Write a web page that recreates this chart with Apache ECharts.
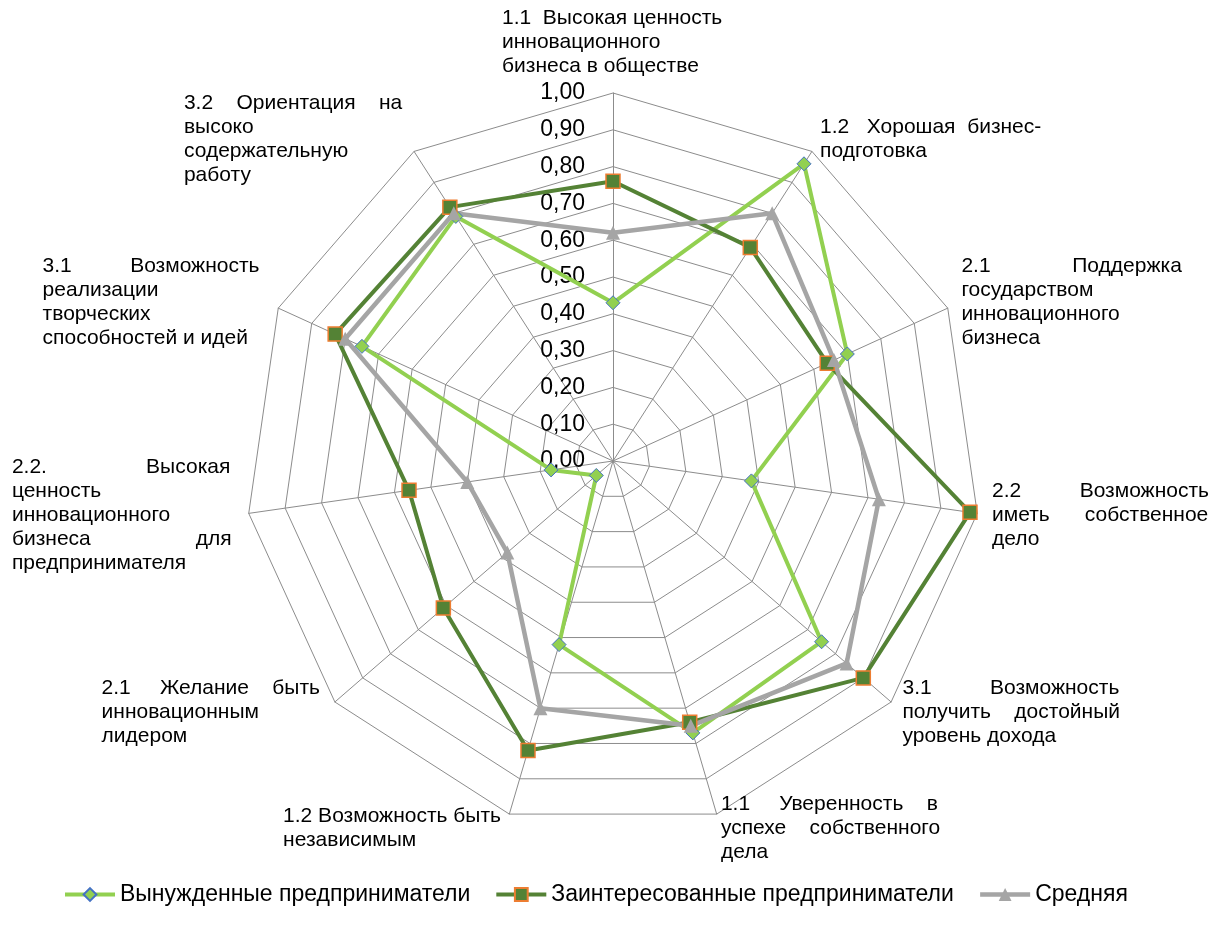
<!DOCTYPE html>
<html>
<head>
<meta charset="utf-8">
<title>Мотивы предпринимателей</title>
<script src="https://cdn.jsdelivr.net/npm/echarts@6/dist/echarts.min.js"></script>
<style>
  html, body { margin: 0; padding: 0; background: #fff; }
  #main { width: 1224px; height: 932px; }
</style>
</head>
<body>
<div id="main"></div>
<script>
// оси по часовой стрелке, начиная с верхней
const categories = [
  '1.1 Высокая ценность\nинновационного\nбизнеса в обществе',
  '1.2 Хорошая бизнес-\nподготовка',
  '2.1 Поддержка\nгосударством\nинновационного\nбизнеса',
  '2.2 Возможность\nиметь собственное\nдело',
  '3.1 Возможность\nполучить достойный\nуровень дохода',
  '1.1 Уверенность в\nуспехе собственного\nдела',
  '1.2 Возможность быть\nнезависимым',
  '2.1 Желание быть\nинновационным\nлидером',
  '2.2. Высокая\nценность\nинновационного\nбизнеса для\nпредпринимателя',
  '3.1 Возможность\nреализации\nтворческих\nспособностей и идей',
  '3.2 Ориентация на\nвысоко\nсодержательную\nработу'
]
const forcedValues = [0.43, 0.96, 0.70, 0.38, 0.75, 0.77, 0.52, 0.06, 0.17, 0.75, 0.79]
const interestedValues = [0.76, 0.69, 0.64, 0.98, 0.90, 0.74, 0.82, 0.61, 0.56, 0.83, 0.82]
const averageValues = [0.62, 0.80, 0.66, 0.73, 0.84, 0.75, 0.70, 0.38, 0.40, 0.80, 0.80]
const tickLabels = ['0,00', '0,10', '0,20', '0,30', '0,40', '0,50', '0,60', '0,70', '0,80', '0,90', '1,00']
const seriesNames = ['Вынужденные предприниматели', 'Заинтересованные предприниматели', 'Средняя']

const FONT = 'Liberation Sans'
const NAME_SIZE = 21
const NAME_WIDTH = 222

// ширина текста нужна, чтобы выровнять строки по ширине, как в Excel
const ctx = document.createElement('canvas').getContext('2d')
ctx.font = NAME_SIZE + 'px "' + FONT + '"'

function justify (line) {
  const words = line.split(' ')
  if (words.length < 2) return line
  const wordsWidth = words.reduce((s, w) => s + ctx.measureText(w).width, 0)
  const spaceW = ctx.measureText(' ').width
  let left = Math.max(words.length - 1, Math.floor((NAME_WIDTH - wordsWidth) / spaceW))
  let gaps = words.length - 1
  let out = words[0]
  for (let i = 1; i < words.length; i++) {
    const n = Math.max(1, Math.round(left / gaps))
    out += ' '.repeat(n) + words[i]
    left -= n
    gaps--
  }
  return out
}

function nameFormatter (name) {
  const lines = name.split('\n')
  return lines.map((l, i) => '{t|' + (i < lines.length - 1 ? justify(l) : l) + '}').join('\n')
}

// ECharts раскладывает оси против часовой стрелки — переворачиваем порядок
const order = categories.map((_, i) => (categories.length - i) % categories.length)

const styles = [
  { symbol: 'diamond', size: 14, line: '#92d050', fill: '#92d050', border: '#4472c4', borderWidth: 1, width: 4 },
  { symbol: 'rect', size: 14, line: '#548235', fill: '#548235', border: '#ed7d31', borderWidth: 1.5, width: 4 },
  { symbol: 'triangle', size: 14, line: '#a5a5a5', fill: '#a5a5a5', border: '#a5a5a5', borderWidth: 0, width: 4.5 }
]
const allValues = [forcedValues, interestedValues, averageValues]

const chart = echarts.init(document.getElementById('main'))

const option = {
  animation: false,
  backgroundColor: '#fff',
  textStyle: { fontFamily: FONT },
  legend: {
    left: 58,
    top: 878,
    itemWidth: 50,
    itemHeight: 16,
    itemGap: 24,
    textStyle: { fontSize: 23, color: '#000', fontFamily: FONT },
    data: seriesNames.map((name, s) => ({
      name: name,
      lineStyle: { width: styles[s].width }
    }))
  },
  // скрытая сетка только для значков легенды (линия + маркер)
  grid: { show: false, left: -20, top: -20, width: 1, height: 1 },
  xAxis: { type: 'category', show: false },
  yAxis: { type: 'value', show: false },
  radar: {
    center: [613, 461],
    radius: 368,
    startAngle: 90,
    splitNumber: 10,
    shape: 'polygon',
    nameGap: 15,
    axisName: {
      color: '#000',
      formatter: nameFormatter,
      rich: {
        t: { width: NAME_WIDTH, align: 'left', fontSize: NAME_SIZE, lineHeight: 24, color: '#000', fontFamily: FONT }
      }
    },
    splitLine: { lineStyle: { color: '#8c8c8c', width: 1 } },
    splitArea: { show: false },
    axisLine: { lineStyle: { color: '#8c8c8c', width: 1 } },
    axisTick: { show: false },
    axisLabel: { show: false },
    indicator: order.map((k, i) => {
      const item = { name: categories[k], min: 0, max: 1 }
      if (i === 0) {
        item.axisLabel = {
          show: true,
          margin: 28,
          fontSize: 23,
          color: '#000',
          fontFamily: FONT,
          formatter: v => tickLabels[Math.round(v * 10)]
        }
      }
      return item
    })
  },
  series: [
    {
      type: 'radar',
      name: 'radar',
      data: allValues.map((vals, s) => ({
        name: seriesNames[s],
        value: order.map(k => vals[k]),
        symbol: styles[s].symbol,
        symbolSize: styles[s].size,
        lineStyle: { color: styles[s].line, width: styles[s].width },
        itemStyle: { color: styles[s].fill, borderColor: styles[s].border, borderWidth: styles[s].borderWidth }
      }))
    }
  ].concat(seriesNames.map((name, s) => ({
    type: 'line',
    name: name,
    data: [],
    symbol: styles[s].symbol,
    lineStyle: { color: styles[s].line, width: styles[s].width },
    itemStyle: { color: styles[s].fill, borderColor: styles[s].border, borderWidth: styles[s].borderWidth }
  })))
}

chart.setOption(option)
</script>
</body>
</html>
